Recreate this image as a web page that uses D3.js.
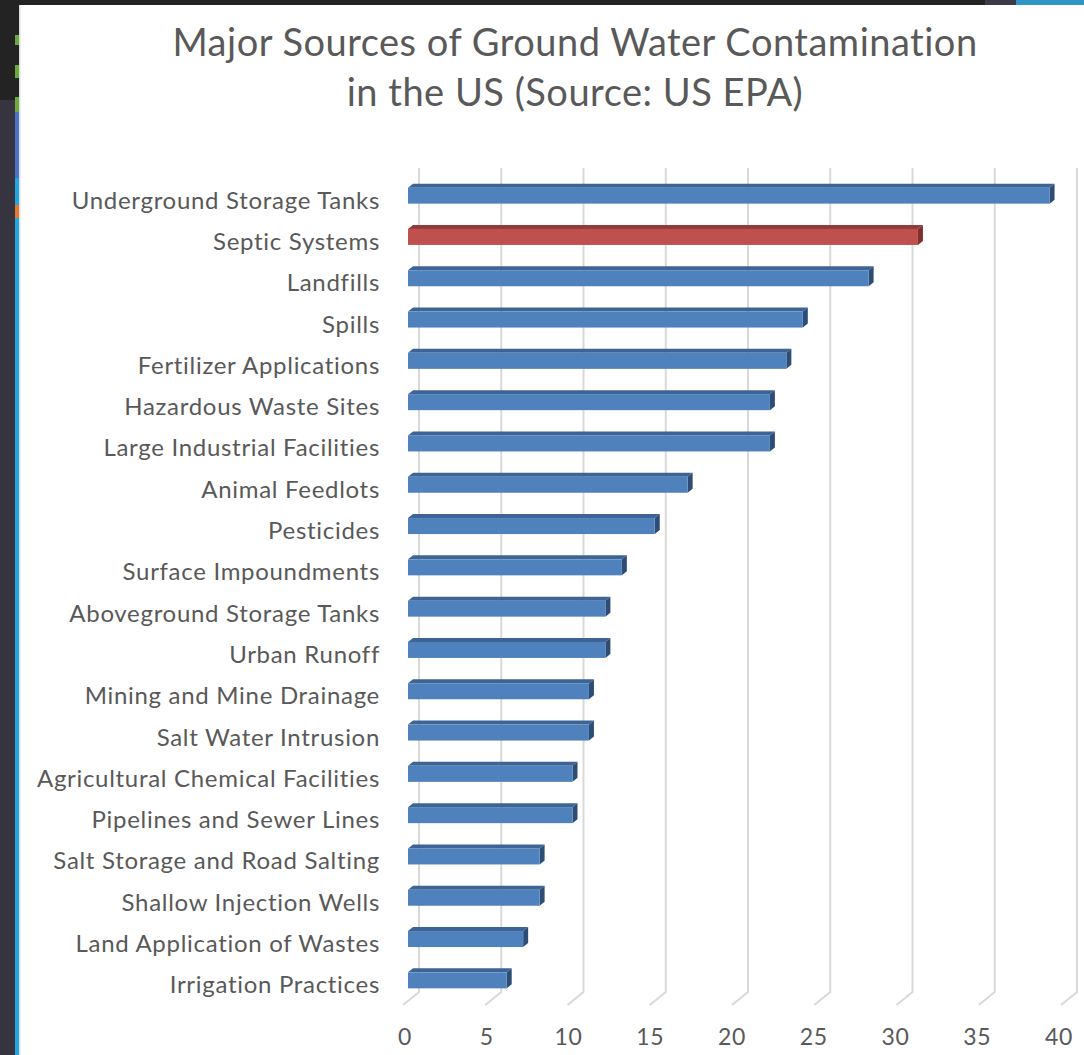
<!DOCTYPE html>
<html>
<head>
<meta charset="utf-8">
<script src="https://cdn.jsdelivr.net/npm/d3@7"></script>
<style>
  html, body { margin: 0; padding: 0; background: #ffffff; }
  svg { display: block; }
</style>
</head>
<body>
<svg id="chart" width="1084" height="1055"></svg>
<script>
// Sources of ground water contamination, ordered as listed (top to bottom)
const categories = [
  "Underground Storage Tanks",
  "Septic Systems",
  "Landfills",
  "Spills",
  "Fertilizer Applications",
  "Hazardous Waste Sites",
  "Large Industrial Facilities",
  "Animal Feedlots",
  "Pesticides",
  "Surface Impoundments",
  "Aboveground Storage Tanks",
  "Urban Runoff",
  "Mining and Mine Drainage",
  "Salt Water Intrusion",
  "Agricultural Chemical Facilities",
  "Pipelines and Sewer Lines",
  "Salt Storage and Road Salting",
  "Shallow Injection Wells",
  "Land Application of Wastes",
  "Irrigation Practices"
];
const values = [39, 31, 28, 24, 23, 22, 22, 17, 15, 13, 12, 12, 11, 11, 10, 10, 8, 8, 7, 6];
const highlighted = ["Septic Systems"];
const tickValues = [0, 5, 10, 15, 20, 25, 30, 35, 40];
const titleLines = ["Major Sources of Ground Water Contamination", "in the US (Source: US EPA)"];

const svg = d3.select("#chart");
const W = 1084, H = 1055;
const FONT = "Lato, 'Open Sans', sans-serif";
const TEXT = "#595959";

// --- slide frame around the chart area ---
svg.append("rect").attr("x", 0).attr("y", 0).attr("width", W).attr("height", H).attr("fill", "#ffffff");
svg.append("rect").attr("x", 0).attr("y", 0).attr("width", 16).attr("height", H).attr("fill", "#36343f");
svg.append("rect").attr("x", 0).attr("y", 0).attr("width", 16).attr("height", 100).attr("fill", "#232323");
svg.append("rect").attr("x", 0).attr("y", 0).attr("width", 985).attr("height", 5).attr("fill", "#232323");
svg.append("rect").attr("x", 985).attr("y", 0).attr("width", 31).attr("height", 5).attr("fill", "#3a3a48");
svg.append("rect").attr("x", 1016).attr("y", 0).attr("width", 68).attr("height", 5).attr("fill", "#3196c6");
const stripe = [
  [0, 100, "#232323"], [35, 10, "#6aab3c"], [65, 13, "#6aab3c"], [97, 15, "#6aab3c"],
  [112, 66, "#4a72c4"], [178, 27, "#1ea8df"], [205, 13, "#e7782f"], [218, H - 218, "#1ea8df"]
];
stripe.forEach(([y, h, c]) => svg.append("rect").attr("x", 15).attr("y", y).attr("width", 4).attr("height", h).attr("fill", c));
svg.append("rect").attr("x", 19).attr("y", 5).attr("width", 1.5).attr("height", H).attr("fill", "#dcdcdc");

// --- title ---
svg.append("text")
  .attr("x", 575).attr("y", 56)
  .attr("text-anchor", "middle")
  .attr("font-family", FONT).attr("font-size", 38).attr("letter-spacing", 0.5).attr("fill", TEXT)
  .selectAll("tspan").data(titleLines).join("tspan")
  .attr("x", 575).attr("dy", (d, i) => i === 0 ? 0 : 50)
  .text(d => d);

// --- scales ---
const x = d3.scaleLinear().domain([0, 40]).range([408, 1066]);
const y = d3.scaleBand().domain(categories).range([175, 1001]).padding(0);
const gridTop = 168, gridBottom = 992;
const back = { dx: 11 };          // back-wall offset of the gridlines
const foot = { dx: -16, dy: 13 }; // floor edge of each gridline
const depth = { dx: 5, dy: -4 };  // visible depth of each bar
const barH = 16;

// --- gridlines on the back wall with a floor foot ---
const grid = svg.append("g").attr("fill", "none").attr("stroke", "#d9d9d9").attr("stroke-width", 2);
grid.selectAll("path").data(tickValues).join("path")
  .attr("d", v => {
    const gx = x(v) + back.dx;
    return `M${gx},${gridTop}L${gx},${gridBottom}L${gx + foot.dx},${gridBottom + foot.dy}`;
  });

// --- tick labels ---
svg.append("g").selectAll("text").data(tickValues).join("text")
  .attr("x", v => x(v) - 3 - v * 0.1)
  .attr("y", 1045)
  .attr("text-anchor", "middle")
  .attr("font-family", FONT).attr("font-size", 23).attr("letter-spacing", 0.6).attr("fill", TEXT)
  .text(d => d);

// --- category labels ---
svg.append("g").selectAll("text").data(categories).join("text")
  .attr("x", 380)
  .attr("y", c => y(c) + y.bandwidth() / 2 + 13)
  .attr("text-anchor", "end")
  .attr("font-family", FONT).attr("font-size", 24).attr("letter-spacing", 0.7).attr("fill", TEXT)
  .text(c => c);

// --- 3D bars: front face, top face and right side ---
const palette = {
  normal: { front: "#4f81bd", top: "#3c6595", side: "#2e4d75" },
  accent: { front: "#c0504d", top: "#913c3a", side: "#7e3230" }
};
const data = categories.map((c, i) => ({ c, v: values[i], col: highlighted.includes(c) ? palette.accent : palette.normal }));
const bars = svg.append("g").selectAll("g").data(data).join("g");

bars.append("path") // top face
  .attr("fill", d => d.col.top)
  .attr("d", d => {
    const x0 = x(0), x1 = x(d.v), yt = y(d.c) + y.bandwidth() / 2 - barH / 2;
    return `M${x0},${yt}L${x0 + depth.dx},${yt + depth.dy}L${x1 + depth.dx},${yt + depth.dy}L${x1},${yt}Z`;
  });
bars.append("path") // right side face
  .attr("fill", d => d.col.side)
  .attr("d", d => {
    const x1 = x(d.v), yt = y(d.c) + y.bandwidth() / 2 - barH / 2;
    return `M${x1},${yt}L${x1 + depth.dx},${yt + depth.dy}L${x1 + depth.dx},${yt + depth.dy + barH}L${x1},${yt + barH}Z`;
  });
bars.append("rect") // front face
  .attr("x", x(0))
  .attr("y", d => y(d.c) + y.bandwidth() / 2 - barH / 2)
  .attr("width", d => x(d.v) - x(0))
  .attr("height", barH)
  .attr("fill", d => d.col.front);
</script>
</body>
</html>
